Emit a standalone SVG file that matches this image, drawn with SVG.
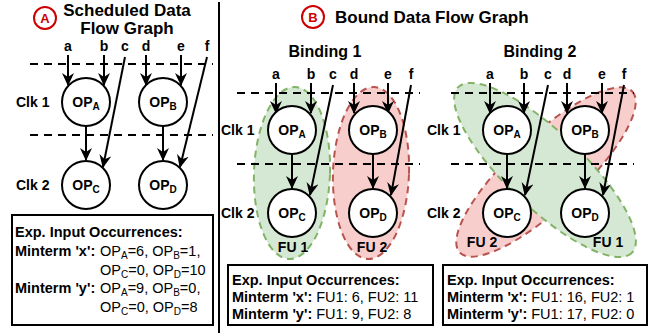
<svg xmlns="http://www.w3.org/2000/svg" width="654" height="333" viewBox="0 0 654 333">
<style>
text{font-family:"Liberation Sans",Arial,Helvetica,sans-serif;fill:#000}
.t{font-size:17px;font-weight:bold}
.bt{font-size:16px;font-weight:bold;text-anchor:middle}
.in{font-size:14px;font-weight:bold;text-anchor:middle}
.clk{font-size:14px;font-weight:bold}
.op{font-size:14px;font-weight:bold;text-anchor:middle}
.sub{font-size:10px}
.fu{font-size:14px;font-weight:bold;text-anchor:middle}
.bx{font-size:14.5px}
.b{font-weight:bold}
.node{fill:#fff;stroke:#000;stroke-width:2}
.dash{stroke:#000;stroke-width:2;stroke-dasharray:8,6;fill:none}
.edge{stroke:#000;stroke-width:2;fill:none;marker-end:url(#ah)}
.box{fill:#fff;stroke:#000;stroke-width:2}
.gr{fill:#d5e8d4;stroke:#82b366;stroke-width:2;stroke-dasharray:7,5}
.rd{fill:#f8cecc;stroke:#b85450;stroke-width:2;stroke-dasharray:7,5}
.badge{fill:#fff;stroke:#cc0000;stroke-width:2}
.bl{fill:#cc0000;font-size:13px;font-weight:bold;text-anchor:middle}
</style>
<defs>
<marker id="ah" viewBox="0 0 13 12" refX="12" refY="6" markerWidth="13" markerHeight="12" markerUnits="userSpaceOnUse" orient="auto">
<path d="M0,0 L13,6 L0,12 L4,6 z" fill="#000"/>
</marker>
</defs>
<rect width="654" height="333" fill="#fff"/>
<line x1="219" y1="2" x2="219" y2="333" stroke="#000" stroke-width="2"/>

<!-- Panel A -->
<g id="titleA">
<circle class="badge" cx="45" cy="18" r="11"/>
<text class="bl" x="45" y="23">A</text>
<text class="t" x="127" y="16" text-anchor="middle">Scheduled Data</text>
<text class="t" x="127" y="34" text-anchor="middle">Flow Graph</text>
</g>
<g id="inputsA">
<text class="in" x="68" y="51">a</text>
<text class="in" x="104" y="51">b</text>
<text class="in" x="125" y="51">c</text>
<text class="in" x="146" y="51">d</text>
<text class="in" x="181" y="51">e</text>
<text class="in" x="207" y="51">f</text>
<text class="clk" x="16" y="107">Clk 1</text>
<text class="clk" x="16" y="190">Clk 2</text>
</g>
<g id="dashesA">
<line class="dash" x1="30" y1="64" x2="213" y2="64"/>
<line class="dash" x1="30" y1="135" x2="213" y2="135"/>
</g>
<g id="edgesA">
<line class="edge" x1="68" y1="55" x2="68" y2="85"/>
<line class="edge" x1="104" y1="55" x2="104" y2="85"/>
<line class="edge" x1="146" y1="55" x2="146" y2="85"/>
<line class="edge" x1="181" y1="55" x2="181" y2="85"/>
<line class="edge" x1="125" y1="57" x2="103" y2="167"/>
<line class="edge" x1="207" y1="57" x2="180" y2="167"/>
<line class="edge" x1="86" y1="126" x2="86" y2="160"/>
<line class="edge" x1="163" y1="126" x2="163" y2="160"/>
</g>
<g id="A_OPA"><circle class="node" cx="86" cy="102" r="24"/><text class="op" x="86" y="107">OP<tspan class="sub" dy="3">A</tspan></text></g>
<g id="A_OPB"><circle class="node" cx="163" cy="102" r="24"/><text class="op" x="163" y="107">OP<tspan class="sub" dy="3">B</tspan></text></g>
<g id="A_OPC"><circle class="node" cx="86" cy="185" r="24"/><text class="op" x="86" y="190">OP<tspan class="sub" dy="3">C</tspan></text></g>
<g id="A_OPD"><circle class="node" cx="163" cy="185" r="24"/><text class="op" x="163" y="190">OP<tspan class="sub" dy="3">D</tspan></text></g>
<g id="boxA">
<rect class="box" x="12" y="215" width="201" height="110"/>
<text class="bx b" x="15" y="237">Exp. Input Occurrences:</text>
<text class="bx b" x="15" y="256">Minterm 'x':</text>
<text class="bx" x="100" y="256">OP<tspan class="sub" dy="3">A</tspan><tspan dy="-3">=6, OP</tspan><tspan class="sub" dy="3">B</tspan><tspan dy="-3">=1,</tspan></text>
<text class="bx" x="100" y="275">OP<tspan class="sub" dy="3">C</tspan><tspan dy="-3">=0, OP</tspan><tspan class="sub" dy="3">D</tspan><tspan dy="-3">=10</tspan></text>
<text class="bx b" x="15" y="293">Minterm 'y':</text>
<text class="bx" x="100" y="293">OP<tspan class="sub" dy="3">A</tspan><tspan dy="-3">=9, OP</tspan><tspan class="sub" dy="3">B</tspan><tspan dy="-3">=0,</tspan></text>
<text class="bx" x="100" y="312">OP<tspan class="sub" dy="3">C</tspan><tspan dy="-3">=0, OP</tspan><tspan class="sub" dy="3">D</tspan><tspan dy="-3">=8</tspan></text>
</g>

<!-- Panel B -->
<g id="titleB">
<circle class="badge" cx="313" cy="17" r="11"/>
<text class="bl" x="313" y="22">B</text>
<text class="t" x="335" y="23">Bound Data Flow Graph</text>
<text class="bt" x="325" y="57">Binding 1</text>
<text class="bt" x="540" y="57">Binding 2</text>
</g>

<!-- Binding 1 -->
<g id="B1_FU1"><ellipse class="gr" cx="292" cy="173" rx="38" ry="86" transform="rotate(2 292 173)"/><text class="fu" x="293" y="252">FU 1</text></g>
<g id="B1_FU2"><ellipse class="rd" cx="371" cy="173" rx="38" ry="86" transform="rotate(2 371 173)"/><text class="fu" x="372" y="252">FU 2</text></g>
<g id="inputsB1">
<text class="in" x="276" y="79">a</text>
<text class="in" x="311" y="79">b</text>
<text class="in" x="333" y="79">c</text>
<text class="in" x="354" y="79">d</text>
<text class="in" x="388" y="79">e</text>
<text class="in" x="411" y="79">f</text>
<text class="clk" x="221" y="135">Clk 1</text>
<text class="clk" x="221" y="218">Clk 2</text>
</g>
<g id="dashesB1">
<line class="dash" x1="237" y1="93" x2="420" y2="93"/>
<line class="dash" x1="237" y1="164" x2="420" y2="164"/>
</g>
<g id="edgesB1">
<line class="edge" x1="276" y1="83" x2="276" y2="113"/>
<line class="edge" x1="311" y1="83" x2="311" y2="113"/>
<line class="edge" x1="354" y1="83" x2="354" y2="113"/>
<line class="edge" x1="388" y1="83" x2="388" y2="113"/>
<line class="edge" x1="333" y1="85" x2="310" y2="195"/>
<line class="edge" x1="411" y1="85" x2="391" y2="195"/>
<line class="edge" x1="292" y1="154" x2="292" y2="188"/>
<line class="edge" x1="373" y1="154" x2="373" y2="188"/>
</g>
<g id="B1_OPA"><circle class="node" cx="292" cy="130" r="24"/><text class="op" x="292" y="135">OP<tspan class="sub" dy="3">A</tspan></text></g>
<g id="B1_OPB"><circle class="node" cx="373" cy="130" r="24"/><text class="op" x="373" y="135">OP<tspan class="sub" dy="3">B</tspan></text></g>
<g id="B1_OPC"><circle class="node" cx="292" cy="213" r="24"/><text class="op" x="292" y="218">OP<tspan class="sub" dy="3">C</tspan></text></g>
<g id="B1_OPD"><circle class="node" cx="373" cy="213" r="24"/><text class="op" x="373" y="218">OP<tspan class="sub" dy="3">D</tspan></text></g>
<g id="boxB1">
<rect class="box" x="228" y="265" width="205" height="60"/>
<text class="bx b" x="232" y="285">Exp. Input Occurrences:</text>
<text class="bx" x="232" y="302"><tspan class="b">Minterm 'x':</tspan> FU1: 6, FU2: 11</text>
<text class="bx" x="232" y="319"><tspan class="b">Minterm 'y':</tspan> FU1: 9, FU2: 8</text>
</g>

<!-- Binding 2 -->
<g id="B2_FU2"><ellipse class="rd" cx="546" cy="172" rx="118" ry="36" transform="rotate(-43 546 172)"/><text class="fu" x="482" y="247">FU 2</text></g>
<g id="B2_FU1"><ellipse class="gr" cx="545" cy="170" rx="120" ry="38" transform="rotate(43.5 545 170)"/><text class="fu" x="608" y="247">FU 1</text></g>
<g id="inputsB2">
<text class="in" x="490" y="79">a</text>
<text class="in" x="524" y="79">b</text>
<text class="in" x="548" y="79">c</text>
<text class="in" x="567" y="79">d</text>
<text class="in" x="602" y="79">e</text>
<text class="in" x="624" y="79">f</text>
<text class="clk" x="427" y="135">Clk 1</text>
<text class="clk" x="427" y="218">Clk 2</text>
</g>
<g id="dashesB2">
<line class="dash" x1="451" y1="93" x2="634" y2="93"/>
<line class="dash" x1="451" y1="164" x2="634" y2="164"/>
</g>
<g id="edgesB2">
<line class="edge" x1="490" y1="83" x2="490" y2="113"/>
<line class="edge" x1="524" y1="83" x2="524" y2="113"/>
<line class="edge" x1="567" y1="83" x2="567" y2="113"/>
<line class="edge" x1="602" y1="83" x2="602" y2="113"/>
<line class="edge" x1="548" y1="85" x2="525" y2="195"/>
<line class="edge" x1="624" y1="85" x2="603" y2="195"/>
<line class="edge" x1="507" y1="154" x2="507" y2="188"/>
<line class="edge" x1="585" y1="154" x2="585" y2="188"/>
</g>
<g id="B2_OPA"><circle class="node" cx="507" cy="130" r="24"/><text class="op" x="507" y="135">OP<tspan class="sub" dy="3">A</tspan></text></g>
<g id="B2_OPB"><circle class="node" cx="585" cy="130" r="24"/><text class="op" x="585" y="135">OP<tspan class="sub" dy="3">B</tspan></text></g>
<g id="B2_OPC"><circle class="node" cx="507" cy="213" r="24"/><text class="op" x="507" y="218">OP<tspan class="sub" dy="3">C</tspan></text></g>
<g id="B2_OPD"><circle class="node" cx="585" cy="213" r="24"/><text class="op" x="585" y="218">OP<tspan class="sub" dy="3">D</tspan></text></g>
<g id="boxB2">
<rect class="box" x="443" y="265" width="204" height="60"/>
<text class="bx b" x="447" y="285">Exp. Input Occurrences:</text>
<text class="bx" x="447" y="302"><tspan class="b">Minterm 'x':</tspan> FU1: 16, FU2: 1</text>
<text class="bx" x="447" y="319"><tspan class="b">Minterm 'y':</tspan> FU1: 17, FU2: 0</text>
</g>
</svg>
